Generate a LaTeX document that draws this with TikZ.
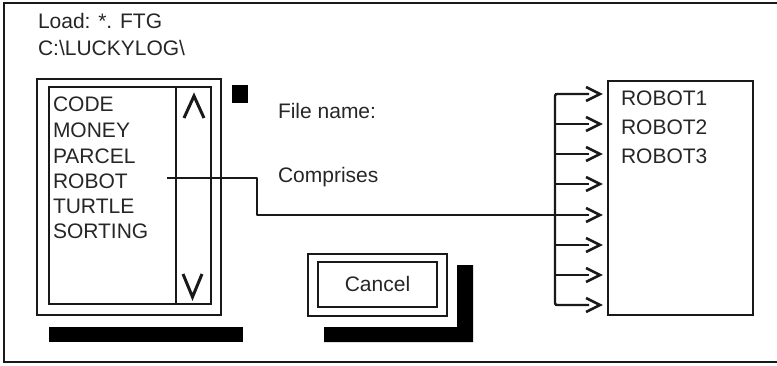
\documentclass[tikz,border=0pt]{standalone}
\usepackage{fontspec}
\setmainfont{Liberation Sans}
\begin{document}
\begin{tikzpicture}[x=1pt,y=-1pt,
  every node/.style={inner sep=0pt,outer sep=0pt,font=\fontsize{21}{24}\selectfont,text=black!85},
  txt/.style={anchor=base west},
  frame/.style={line width=2.4pt,draw=black!90},
  boxline/.style={line width=2.4pt,draw=black!90},
  conn/.style={line width=2.4pt,draw=black!90,line join=round},
  chev/.style={line width=2.6pt,draw=black!90,line join=miter},
  solid black/.style={fill=black}]
\useasboundingbox (0,0) rectangle (777,365);
% outer frame (open at right)
\draw[frame] (777,3) -- (4,3) -- (4,362) -- (777,362);
% header texts
\node[txt] (load) at (38,28) {Load: *. FTG};
\node[txt] (path) at (38,55) {C:\textbackslash LUCKYLOG\textbackslash};
% list box
\draw[boxline] (37,79) rectangle (221,315);
\draw[boxline] (49,87) rectangle (211,304);
\draw[boxline] (176,87) -- (176,304);
\draw[line width=3pt,line join=miter,draw=black!90] (184,118) -- (194,96) -- (204,118);
\draw[line width=3pt,line join=miter,draw=black!90] (183,274) -- (192.5,297) -- (202,274);
\node[txt] (code) at (53,111) {CODE};
\node[txt] (money) at (53,137) {MONEY};
\node[txt] (parcel) at (53,163) {PARCEL};
\node[txt] (robot) at (53,188) {ROBOT};
\node[txt] (turtle) at (53,213) {TURTLE};
\node[txt] (sorting) at (53,238) {SORTING};
% black square and bar
\fill[solid black] (232,85) rectangle (248,103);
\fill[solid black] (49,327) rectangle (243,342);
% labels
\node[txt] (fname) at (278,118) {File name:};
\node[txt] (compr) at (278,182) {Comprises};
% cancel button
\draw[boxline] (308,254) rectangle (447,316);
\draw[boxline] (318,262) rectangle (437,307);
\node[font=\fontsize{21}{24}\selectfont] (cancel) at (377.5,284) {Cancel};
\fill[solid black] (324,327) -- (457,327) -- (457,265) -- (473,265) -- (473,342) -- (324,342) -- cycle;
% right box
\node[draw=black!90,line width=2.4pt,minimum width=145pt,minimum height=234pt,anchor=north west] (rbox) at (608,81) {};
\node[txt] (r1) at (621,105) {ROBOT1};
\node[txt] (r2) at (621,134) {ROBOT2};
\node[txt] (r3) at (621,163) {ROBOT3};
% arrow column
\foreach \i/\y in {1/94,2/124,3/154,4/184,5/215,6/245,7/275,8/305}{
  \coordinate (a\i) at (600,\y);
  \coordinate (t\i) at (555,\y);
  \draw[conn] (t\i) -- (589,\y);
  \draw[chev] (586,\y-7) -- (a\i) -- (586,\y+7);
}
\draw[conn,rounded corners=2pt] (589,94) -- (t1) -- (t8) -- (589,305);
% ROBOT connector
\coordinate (rs) at (167,178);
\coordinate (rk1) at (257,178);
\coordinate (rk2) at (257,215);
\draw[conn] (rs) -- (rk1) -- (rk2) -- (t5);
\end{tikzpicture}
\end{document}
